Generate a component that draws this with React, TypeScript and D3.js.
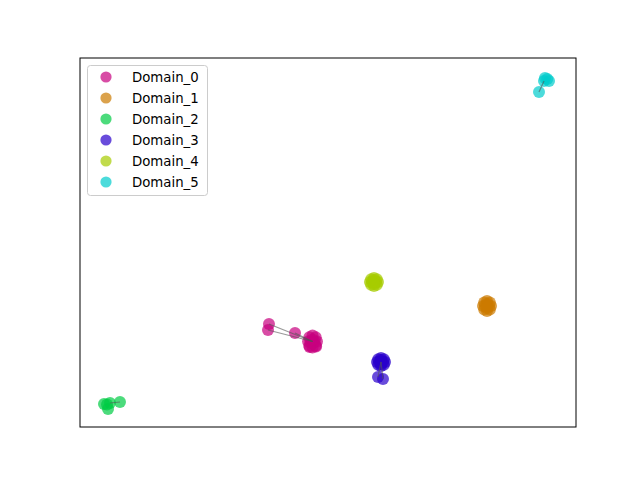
import React from "react";
import * as d3 from "d3";

const domains = ["Domain_0", "Domain_1", "Domain_2", "Domain_3", "Domain_4", "Domain_5"];
const colors = ["#c8007f", "#cc7a00", "#00cc44", "#2a00cc", "#a6cc00", "#00cccc"];

const pts0: [number, number][] = [
  [38.10, 27.91], [37.90, 26.29], [43.35, 25.47],
  [46.88, 23.17],
  [47.78, 23.17], [45.98, 23.17], [46.88, 24.80], [46.88, 21.54], [47.52, 24.32], [46.24, 24.32], [47.52, 22.02], [46.24, 22.02],
  [47.28, 23.17], [46.48, 23.17], [46.88, 23.71], [46.88, 22.63], [47.60, 21.80], [46.30, 21.70],
];
const pts1: [number, number][] = [
  [82.06, 32.79],
  [82.87, 32.79], [81.25, 32.79], [82.06, 34.15], [82.06, 31.43], [82.63, 33.74], [81.49, 33.74], [82.63, 31.84], [81.49, 31.84],
  [82.46, 32.79], [81.66, 32.79], [82.06, 33.33], [82.06, 32.25],
];
const pts2: [number, number][] = [
  [4.84, 6.23], [6.05, 6.50], [5.65, 4.88], [8.06, 6.78], [5.45, 6.10],
];
const pts3: [number, number][] = [
  [60.69, 17.62], [60.08, 13.55], [61.09, 13.01],
  [61.50, 17.62], [59.88, 17.62], [60.69, 18.70], [60.69, 16.54], [61.26, 18.39], [60.12, 18.39], [61.26, 16.85], [60.12, 16.85],
  [61.09, 17.62], [60.29, 17.62], [60.69, 18.16], [60.69, 17.08],
];
const pts4: [number, number][] = [
  [59.27, 39.30],
  [60.08, 39.30], [58.46, 39.30], [59.27, 40.38], [59.27, 38.22], [59.84, 40.07], [58.70, 40.07], [59.84, 38.53], [58.70, 38.53],
  [59.67, 39.30], [58.87, 39.30], [59.27, 39.84], [59.27, 38.76],
];
const pts5: [number, number][] = [
  [93.75, 94.58], [94.56, 93.77], [93.55, 93.77], [92.54, 90.79], [94.2, 94.3],
];
const points = [pts0, pts1, pts2, pts3, pts4, pts5];

// [domain, fromIndex, toIndex]
const links: [number, number, number][] = [
  [0, 0, 3], [0, 1, 3], [0, 2, 3],
  [3, 1, 0], [3, 2, 0],
  [2, 1, 3],
  [5, 3, 2],
];

export default function App() {
  const W = 640, H = 480;
  const L = 80, R = 576, T = 58, B = 427;
  const x = d3.scaleLinear().domain([0, 100]).range([L, R]);
  const y = d3.scaleLinear().domain([0, 100]).range([B, T]);
  const r = 6;
  return (
    <svg width={W} height={H} style={{ position: "absolute", left: 0, top: 0 }} fontFamily="DejaVu Sans">
      <rect x={0} y={0} width={W} height={H} fill="#fff" />
      {points.map((ps, d) => (
        <g key={d}>
          {ps.map((p, i) => (
            <circle key={i} cx={x(p[0])} cy={y(p[1])} r={r} fill={colors[d]} fillOpacity={0.7} />
          ))}
        </g>
      ))}
      {links.map(([d, a, b], i) => (
        <line key={i} x1={x(points[d][a][0])} y1={y(points[d][a][1])} x2={x(points[d][b][0])} y2={y(points[d][b][1])}
          stroke="#555" strokeOpacity={0.6} strokeWidth={1.2} />
      ))}
      <rect x={L} y={T} width={R - L} height={B - T} fill="none" stroke="#000" strokeWidth={1} />
      <g>
        <rect x={87.5} y={65.5} width={120} height={130} rx={3} fill="#fff" fillOpacity={0.8} stroke="#cccccc" />
        {domains.map((name, i) => (
          <g key={name} transform={`translate(0, ${77 + i * 21})`}>
            <circle cx={106} cy={0} r={5.6} fill={colors[i]} fillOpacity={0.7} />
            <text x={132} y={0} dy="0.35em" fontSize={13.3} fill="#000">{name}</text>
          </g>
        ))}
      </g>
    </svg>
  );
}
